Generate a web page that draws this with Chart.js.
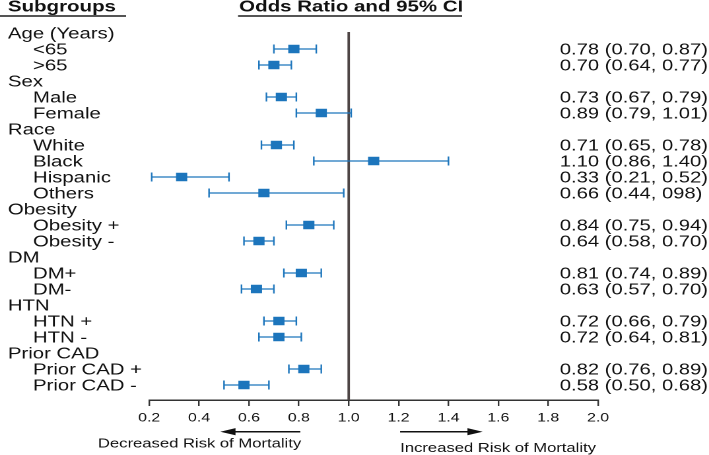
<!DOCTYPE html>
<html>
<head>
<meta charset="utf-8">
<script src="https://cdn.jsdelivr.net/npm/chart.js@4/dist/chart.umd.min.js"></script>
<style>
  html, body { margin: 0; padding: 0; background: #fff; overflow: hidden; }
  #wrap { width: 537px; height: 455px; transform: scaleX(1.3203); transform-origin: 0 0; }
</style>
</head>
<body>
<div id="wrap"><canvas id="c" width="537" height="455"></canvas></div>
<script>
// ---- data ----
const rowLabels = ['Age (Years)', '<65', '>65', 'Sex', 'Male', 'Female', 'Race', 'White', 'Black', 'Hispanic', 'Others',
  'Obesity', 'Obesity +', 'Obesity -', 'DM', 'DM+', 'DM-', 'HTN', 'HTN +', 'HTN -', 'Prior CAD', 'Prior CAD +', 'Prior CAD -'];
const oddsRatio = [null, 0.78, 0.70, null, 0.73, 0.89, null, 0.71, 1.10, 0.33, 0.66, null, 0.84, 0.64, null, 0.81, 0.63, null, 0.72, 0.72, null, 0.82, 0.58];
const ciLower   = [null, 0.70, 0.64, null, 0.67, 0.79, null, 0.65, 0.86, 0.21, 0.44, null, 0.75, 0.58, null, 0.74, 0.57, null, 0.66, 0.64, null, 0.76, 0.50];
const ciUpper   = [null, 0.87, 0.77, null, 0.79, 1.01, null, 0.78, 1.40, 0.52, 0.98, null, 0.94, 0.70, null, 0.89, 0.70, null, 0.79, 0.81, null, 0.89, 0.68];
const ciText = [null, '0.78 (0.70, 0.87)', '0.70 (0.64, 0.77)', null, '0.73 (0.67, 0.79)', '0.89 (0.79, 1.01)', null,
  '0.71 (0.65, 0.78)', '1.10 (0.86, 1.40)', '0.33 (0.21, 0.52)', '0.66 (0.44, 098)', null,
  '0.84 (0.75, 0.94)', '0.64 (0.58, 0.70)', null, '0.81 (0.74, 0.89)', '0.63 (0.57, 0.70)', null,
  '0.72 (0.66, 0.79)', '0.72 (0.64, 0.81)', null, '0.82 (0.76, 0.89)', '0.58 (0.50, 0.68)'];
const xTickValues = [0.2, 0.4, 0.6, 0.8, 1.0, 1.2, 1.4, 1.6, 1.8, 2.0];
const referenceValue = 1.0;
const headerLeft = 'Subgroups';
const headerMid = 'Odds Ratio and 95% CI';
const leftNote = 'Decreased Risk of Mortality';
const rightNote = 'Increased Risk of Mortality';

// ---- styles ----
const BLUE = '#1c75bc';
const FONT = '"Liberation Sans", Arial, Helvetica, sans-serif';

const points = [];
oddsRatio.forEach((v, i) => { if (v !== null) points.push({ x: v, y: i }); });

const forestPlugin = {
  id: 'forest',
  beforeDatasetsDraw(chart) {
    const ctx = chart.ctx, xs = chart.scales.x, ys = chart.scales.y, area = chart.chartArea;
    ctx.save();
    // reference line at OR = 1
    const xr = xs.getPixelForValue(referenceValue);
    ctx.strokeStyle = '#4d4545';
    ctx.lineWidth = 1.9;
    ctx.beginPath(); ctx.moveTo(xr, area.top); ctx.lineTo(xr, area.bottom); ctx.stroke();
    // CI whiskers
    ctx.strokeStyle = BLUE;
    ctx.lineWidth = 1.2;
    oddsRatio.forEach((v, i) => {
      if (v === null) return;
      const y = ys.getPixelForValue(i);
      const x1 = xs.getPixelForValue(ciLower[i]);
      const x2 = xs.getPixelForValue(ciUpper[i]);
      ctx.beginPath();
      ctx.moveTo(x1, y); ctx.lineTo(x2, y);
      ctx.moveTo(x1, y - 4.5); ctx.lineTo(x1, y + 4.5);
      ctx.moveTo(x2, y - 4.5); ctx.lineTo(x2, y + 4.5);
      ctx.stroke();
    });
    ctx.restore();
  },
  afterDraw(chart) {
    const ctx = chart.ctx, xs = chart.scales.x, ys = chart.scales.y;
    ctx.save();
    ctx.fillStyle = '#111';
    ctx.textBaseline = 'alphabetic';
    // row labels and CI text
    rowLabels.forEach((lab, i) => {
      const y = ys.getPixelForValue(i);
      ctx.font = '15.4px ' + FONT;
      ctx.textAlign = 'left';
      ctx.fillText(lab, oddsRatio[i] === null ? 6 : 25, y + 5.4);
      ctx.font = '15.3px ' + FONT;
      if (ciText[i]) ctx.fillText(ciText[i], 424, y + 5.3);
    });
    // column headers
    ctx.font = 'bold 15.5px ' + FONT;
    ctx.textAlign = 'left';
    ctx.fillText(headerLeft, 6, 11.5);
    ctx.textAlign = 'center';
    ctx.fillText(headerMid, 266, 11.5);
    ctx.strokeStyle = '#555';
    ctx.lineWidth = 2;
    ctx.beginPath();
    ctx.moveTo(0, 16); ctx.lineTo(95.5, 16);
    ctx.moveTo(180.3, 16); ctx.lineTo(350, 16);
    ctx.stroke();
    // direction arrows
    const arrow = (xFrom, xTo, y) => {
      const a = xs.getPixelForValue(xFrom), b = xs.getPixelForValue(xTo);
      const dir = Math.sign(b - a);
      ctx.strokeStyle = '#111'; ctx.fillStyle = '#111';
      ctx.lineWidth = 1.5;
      ctx.beginPath(); ctx.moveTo(a, y); ctx.lineTo(b - dir * 8, y); ctx.stroke();
      ctx.beginPath(); ctx.moveTo(b, y); ctx.lineTo(b - dir * 11.5, y - 3.6); ctx.lineTo(b - dir * 11.5, y + 3.6); ctx.closePath(); ctx.fill();
    };
    arrow(0.806, 0.485, 431.7);
    arrow(1.206, 1.537, 431.7);
    ctx.font = '12.6px ' + FONT;
    ctx.textAlign = 'center';
    ctx.fillStyle = '#111';
    ctx.fillText(leftNote, xs.getPixelForValue(0.402), 447.7);
    ctx.fillText(rightNote, xs.getPixelForValue(1.599), 452);
    ctx.restore();
  }
};

new Chart(document.getElementById('c'), {
  type: 'scatter',
  data: {
    datasets: [{
      data: points,
      pointStyle: 'rect',
      pointRadius: 6,
      pointBackgroundColor: BLUE,
      pointBorderWidth: 0,
      pointHoverRadius: 6
    }]
  },
  options: {
    responsive: false,
    devicePixelRatio: 2,
    animation: false,
    events: [],
    layout: { padding: { left: 113, right: 84, top: 32, bottom: 0 } },
    plugins: { legend: { display: false }, tooltip: { enabled: false } },
    scales: {
      x: {
        type: 'linear',
        min: 0.2, max: 2.0,
        afterBuildTicks: s => { s.ticks = xTickValues.map(v => ({ value: v })); },
        afterFit: s => { s.height = 55; },
        border: { display: true, color: '#333', width: 1.5 },
        grid: { drawOnChartArea: false, drawTicks: true, tickLength: 6, color: '#333', lineWidth: 1.2 },
        ticks: {
          padding: 5,
          color: '#111',
          font: { family: FONT, size: 12 },
          maxRotation: 0,
          callback: v => Number(v).toFixed(1)
        }
      },
      y: {
        type: 'linear',
        display: false,
        reverse: true,
        min: -0.0625,
        max: 22.9375
      }
    }
  },
  plugins: [forestPlugin]
});
</script>
</body>
</html>
